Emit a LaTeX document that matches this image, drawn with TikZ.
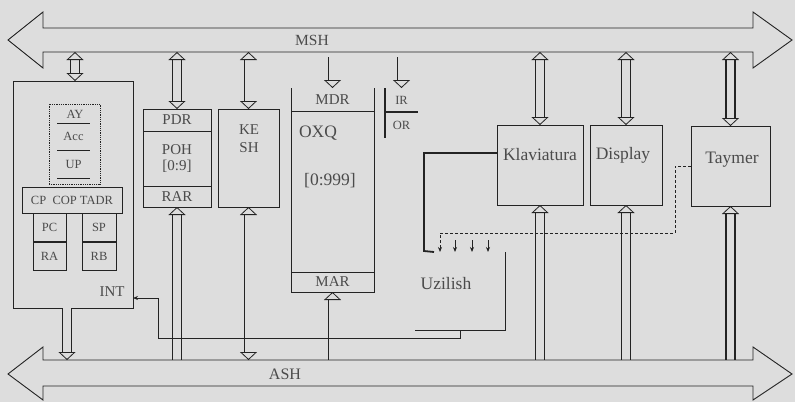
\documentclass[tikz,border=0pt]{standalone}
\usepackage{fontspec}
\setmainfont{Liberation Serif}
\usetikzlibrary{arrows.meta}
\definecolor{bg}{RGB}{221,221,221}
\definecolor{ink}{RGB}{35,35,35}
\definecolor{txt}{RGB}{75,75,75}
\begin{document}
\begin{tikzpicture}[x=1pt,y=-1pt,
  every node/.style={inner sep=0pt, outer sep=0pt},
  box/.style={draw=ink, line width=0.8pt, anchor=north west},
  area/.style={anchor=north west},
  lbl/.style={text=txt, font=\fontsize{15}{18}\selectfont},
  lblL/.style={text=txt, font=\fontsize{17.5}{18}\selectfont},
  lblS/.style={text=txt, font=\fontsize{12.5}{14}\selectfont},
  sig/.style={draw=ink, line width=0.8pt},
  hd/.tip={Triangle[open, length=8pt, width=17pt, line width=0.8pt, fill=bg]},
  dbl/.style={draw=ink, line width=0.8pt, double=bg, double distance=8pt},
  dblT/.style={draw=ink, line width=1.8pt, double=bg, double distance=7pt},
  bus/.style={draw=ink, line width=0.9pt, line join=miter},
]
\fill[bg] (0,0) rectangle (795,402);
\useasboundingbox (0,0) rectangle (795,402);

% ---------- CPU ----------
\node[box, minimum width=120pt, minimum height=227pt] (cpu) at (13,81) {};
\node[box, densely dotted, minimum width=51pt, minimum height=80pt] (regs) at (49,104) {};
\node[lblS] (ay) at (75,114) {AY};
\node[area, lblS, minimum width=33pt, minimum height=27pt] (acc) at (57,123) {Acc};
\draw[sig] (acc.north west) -- (acc.north east);
\draw[sig] (acc.south west) -- (acc.south east);
\node[area, lblS, minimum width=33pt, minimum height=28pt] (up) at (57,150) {UP};
\draw[sig] (up.south west) -- (up.south east);
\node[box, lblS, minimum width=100pt, minimum height=26pt] (cop) at (22,187) {CP~~COP TADR};
\node[box, lblS, minimum width=33pt, minimum height=28pt] (pc) at (33,213) {PC};
\node[box, lblS, minimum width=34pt, minimum height=28pt] (sp) at (82,213) {SP};
\node[box, lblS, minimum width=33pt, minimum height=28pt] (ra) at (33,242) {RA};
\node[box, lblS, minimum width=34pt, minimum height=28pt] (rb) at (82,242) {RB};
\node[lbl] (int) at (112,292) {INT};

% ---------- POH ----------
\node[box, lbl, minimum width=68pt, minimum height=22pt] (pdr) at (143,109) {PDR};
\node[area, lbl, align=center, minimum width=68pt, minimum height=55pt] (poh) at (143,131) {POH\\[-2pt][0:9]};
\node[box, lbl, minimum width=68pt, minimum height=21pt] (rar) at (143,186) {RAR};
\draw[sig] (pdr.north west) rectangle (rar.south east);

% ---------- KESH ----------
\node[box, minimum width=61pt, minimum height=98pt] (kesh) at (218,109) {};
\node[lbl, align=center] (keshl) at (249,139) {KE\\SH};

% ---------- OXQ ----------
\node[area, lbl, minimum width=83pt, minimum height=23pt] (mdr) at (291,88) {MDR};
\draw[sig] (mdr.north west) -- (mdr.south west);
\draw[sig] (mdr.north east) -- (mdr.south east);
\node[box, minimum width=83pt, minimum height=161pt] (oxq) at (291,111) {};
\node[lblL] (oxql) at (318,133) {OXQ};
\node[lblL] (oxqr) at (330,181) {[0:999]};
\node[box, lbl, minimum width=83pt, minimum height=20pt] (mar) at (291,272) {MAR};

% ---------- IR / OR ----------
\node[area, lblS, minimum width=33pt, minimum height=24pt] (ir) at (385,88) {IR};
\node[area, lblS, minimum width=33pt, minimum height=26pt] (or) at (385,112) {OR};
\draw[sig, line width=1.1pt] (ir.north west) -- (or.south west);
\draw[sig, line width=1.1pt] (ir.south west) -- (ir.south east);

% ---------- devices ----------
\node[box, minimum width=86pt, minimum height=80pt] (klav) at (497,125) {};
\node[lblL] (klavl) at (540,155) {Klaviatura};
\node[box, minimum width=72pt, minimum height=80pt] (disp) at (590,125) {};
\node[lblL] (displ) at (623,155) {Display};
\node[box, minimum width=79pt, minimum height=80pt] (taym) at (691,126) {};
\node[lblL] (tayml) at (732,160) {Taymer};

% ---------- Uzilish ----------
\node[area, minimum width=90pt, minimum height=78pt] (uz) at (415,252) {};
\draw[sig] (uz.north east) -- (uz.south east) -- (uz.south west);
\node[lblL] (uzl) at (446,284) {Uzilish};

% ---------- bus reference points ----------
\coordinate (msh) at (400,52);
\coordinate (msh2) at (400,57);
\coordinate (ash) at (400,360);
\coordinate (u1) at (440,252);
\coordinate (u2) at (455,252);
\coordinate (u3) at (472,252);
\coordinate (u4) at (488,252);
\coordinate (kin) at (424,251);
\coordinate (tbend) at (675,233);
\coordinate (ibend) at (158,338);
\coordinate (iup) at (158,298);

% ---------- MSH connections ----------
\draw[dbl, hd-hd] (cpu.north -| ay) -- (ay |- msh);
\draw[dbl, hd-hd] (pdr.north) -- (pdr.north |- msh);
\draw[dbl, hd-hd] (kesh.north) -- (kesh.north |- msh);
\draw[dbl, -hd] (mdr.north |- msh2) -- (mdr.north);
\draw[dbl, -hd] (ir.north |- msh2) -- (ir.north);
\draw[dbl, hd-hd] (klav.north) -- (klav.north |- msh);
\draw[dbl, hd-hd] (disp.north) -- (disp.north |- msh);
\draw[dblT, hd-hd] (taym.north) -- (taym.north |- msh);

% ---------- ASH connections ----------
\draw[dbl, -hd] ([xshift=-6pt]cpu.south) -- ([xshift=-6pt]cpu.south |- ash);
\draw[dbl, hd-] (rar.south) -- (rar.south |- ash);
\draw[dbl, hd-hd] (kesh.south) -- (kesh.south |- ash);
\draw[dbl, hd-] (mar.south) -- (mar.south |- ash);
\draw[dbl, hd-] (klav.south) -- (klav.south |- ash);
\draw[dbl, hd-] (disp.south) -- (disp.south |- ash);
\draw[dblT, hd-] (taym.south) -- (taym.south |- ash);

% ---------- interrupt lines ----------
\draw[sig, line width=1.8pt] ([yshift=12pt]klav.west) -| (kin) -- ([xshift=-6pt]u1);
\draw[sig, densely dashed, -{Stealth[length=5pt,width=4pt]}] (taym.west) -| (tbend) -| (u1);
\draw[sig, -{Stealth[length=5pt,width=4pt]}] ([yshift=12pt]u2) -- (u2);
\draw[sig, -{Stealth[length=5pt,width=4pt]}] ([yshift=12pt]u3) -- (u3);
\draw[sig, -{Stealth[length=5pt,width=4pt]}] ([yshift=12pt]u4) -- (u4);
\draw[sig, -{Stealth[length=5pt,width=4pt]}] ([xshift=-45pt]uz.south east) |- (ibend) -- (iup) -- (cpu.east |- iup);

% ---------- buses ----------
\draw[bus] (43,28) -- (753,28) -- (753,12) -- (792,40) -- (753,68) -- (753,52)
  -- (43,52) -- (43,68) -- (8,40) -- (43,12) -- cycle;
\node[lbl, font=\fontsize{15.5}{16}\selectfont] (mshl) at (312,40) {MSH};
\draw[bus] (43,360) -- (753,360) -- (753,347) -- (792,374) -- (753,400) -- (753,386)
  -- (43,386) -- (43,400) -- (8,374) -- (43,347) -- cycle;
\node[lbl, font=\fontsize{16}{16}\selectfont] (ashl) at (285,374) {ASH};
\end{tikzpicture}
\end{document}
